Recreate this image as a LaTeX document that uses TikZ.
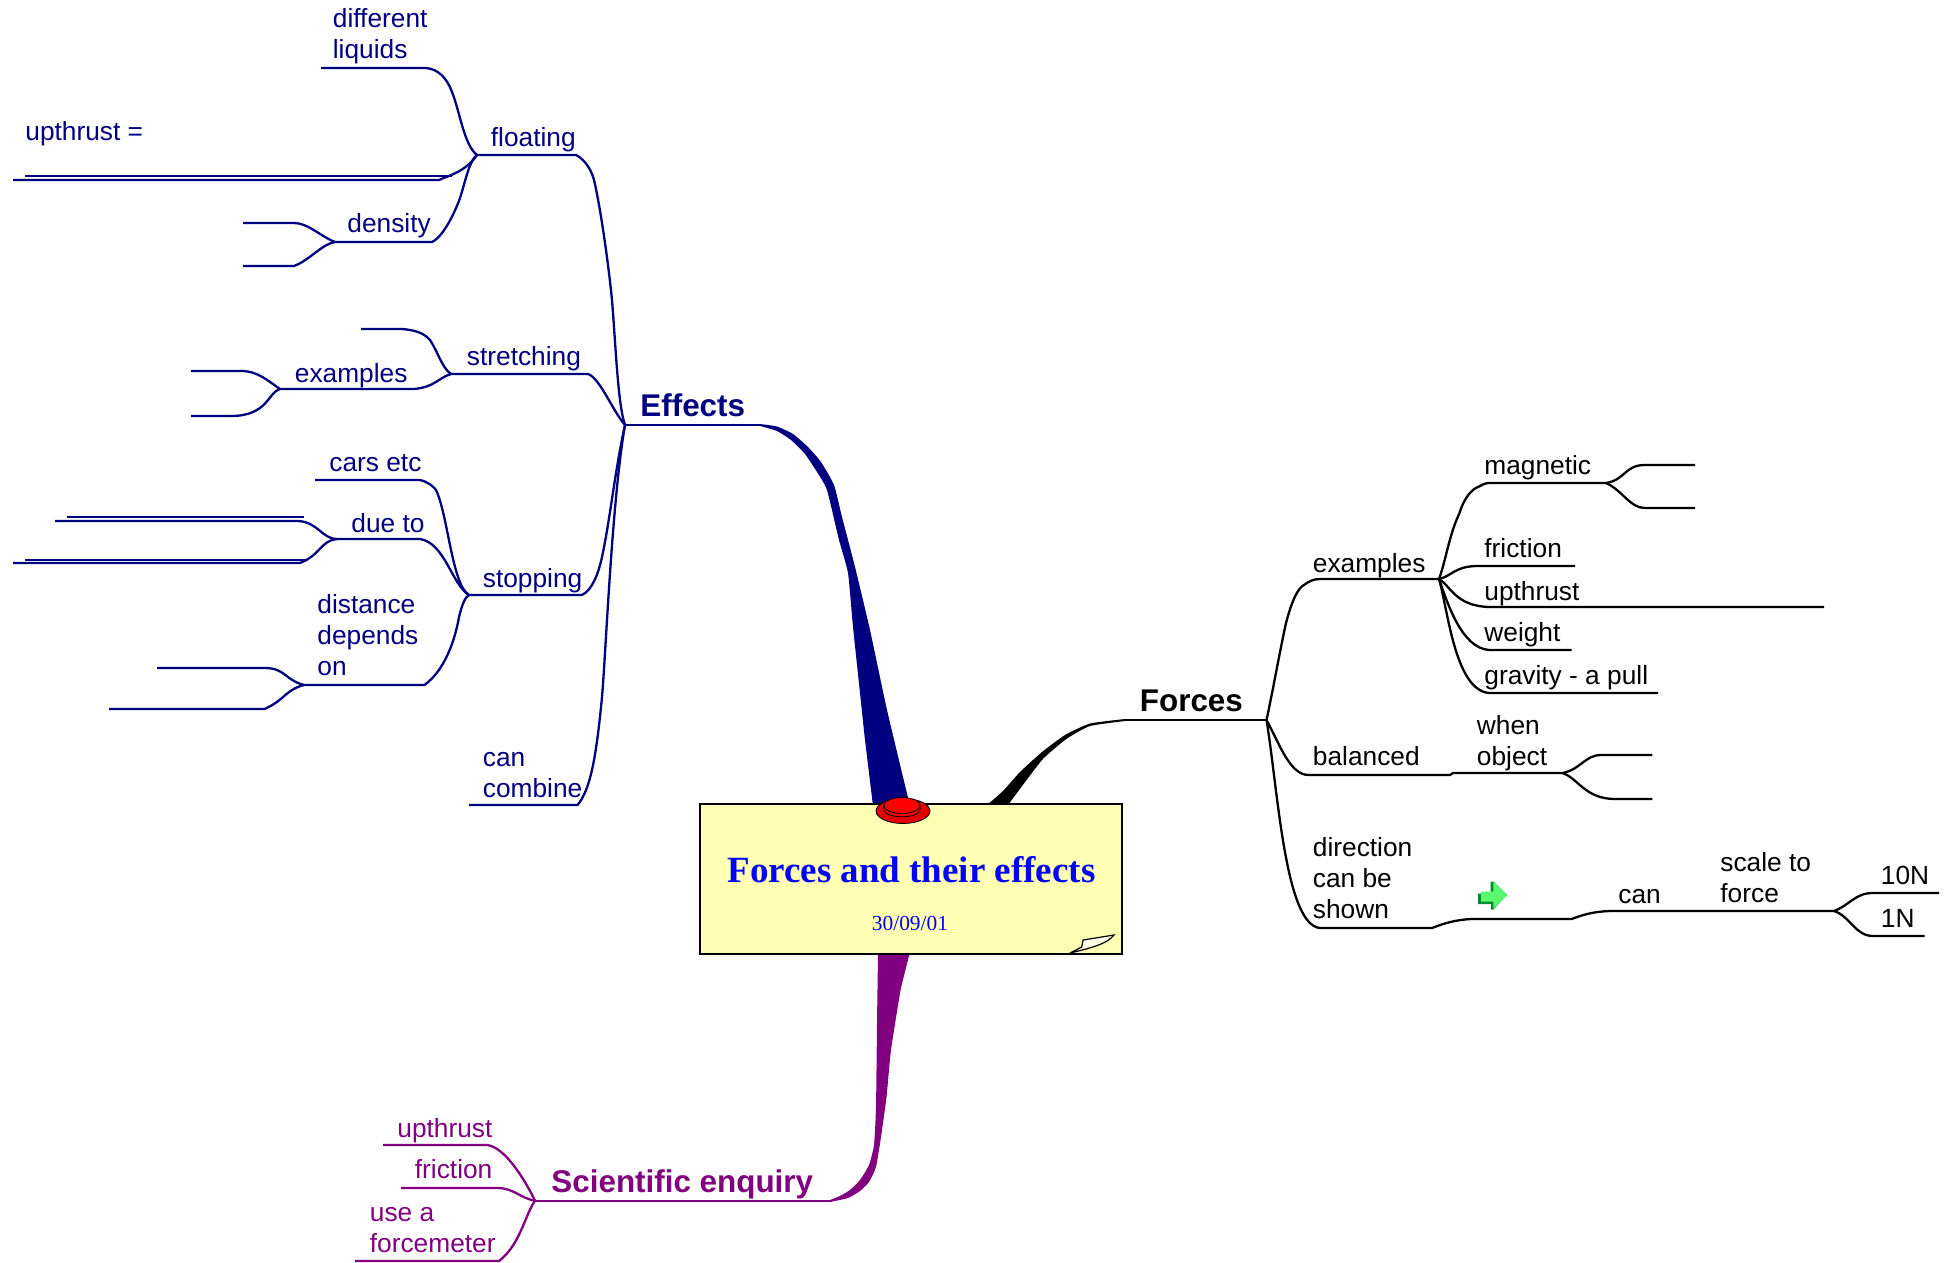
\documentclass[tikz,border=0pt]{standalone}
\usepackage{fontspec}
\setmainfont{Liberation Serif}
\newfontfamily\armfont{Liberation Sans}
\usepackage{xcolor}
\definecolor{effblue}{RGB}{0,0,128}
\definecolor{sciplum}{RGB}{128,0,128}
\definecolor{notefill}{RGB}{255,255,179}
\definecolor{titleblue}{RGB}{0,0,255}
\definecolor{brimred}{RGB}{226,0,0}
\definecolor{arrowlight}{RGB}{90,250,110}
\definecolor{arrowdark}{RGB}{0,140,50}
\tikzset{
  branch/.style={line width=1.15pt,line join=round},
  effline/.style={branch,draw=effblue},
  forline/.style={branch,draw=black},
  sciline/.style={branch,draw=sciplum},
  word/.style={inner sep=0pt,anchor=base west,align=left,font=\armfont\fontsize{13.15}{15.5}\selectfont},
  effword/.style={word,text=effblue},
  forword/.style={word,text=black},
  sciword/.style={word,text=sciplum},
  headword/.style={inner sep=0pt,anchor=base west,font=\armfont\bfseries\fontsize{15.7}{18}\selectfont},
  notebox/.style={draw=black,fill=notefill,line width=1.1pt,minimum width=211pt,minimum height=75pt,inner sep=0pt}
}
\begin{document}
\begin{tikzpicture}[x=.5pt,y=-.5pt]
\useasboundingbox (0,0) rectangle (1957,1262);

% thick limbs
\fill[effblue] plot[smooth,tension=.3] coordinates {(760,424) (777,426.5) (793,434) (808,447) (821,462) (834,485) (842,517) (855,567) (870,630) (887,710) (910,806)}
  -- plot[smooth,tension=.3] coordinates {(873,806) (865,740) (860,693) (853,627) (848,573) (839,540) (827,490) (817,472) (805,454) (791,440) (777,431) (760,426)} -- cycle;
\fill[black] plot[smooth,tension=.3] coordinates {(1125,719) (1090,723.5) (1065,735) (1042,752) (1020,772) (1003,791) (987,805)}
  -- plot[smooth,tension=.3] coordinates {(1008,805) (1042,760) (1067,738.5) (1090,726) (1125,721)} -- cycle;
\fill[sciplum] plot[smooth,tension=.3] coordinates {(878,954) (877,1023) (876,1107) (874,1145) (869,1165) (860,1180) (850,1190) (840,1196) (830,1200)}
  -- plot[smooth,tension=.3] coordinates {(830,1202) (848,1198) (860,1191) (869,1182) (876,1167) (881,1137) (886.5,1097) (891,1050) (900.6,990) (909.5,954)} -- cycle;

% note in the middle
\node[notebox] (note) at (911,879) {};
\filldraw[fill=notefill!30!white,draw=black,line width=.6pt] (1070,953) -- (1081.7,947) -- (1083,940) -- (1114,935) .. controls (1108,942) and (1100,946) .. (1070,953);
\filldraw[fill=brimred,draw=black,line width=.4pt] (903,811) ellipse (27 and 12.5);
\filldraw[fill=red,draw=black,line width=.4pt] (884,810) .. controls (886,819) and (918,819) .. (920,810) -- (920,805) -- (884,805) -- cycle;
\filldraw[fill=red,draw=black,line width=.4pt] (902,805.5) ellipse (18 and 8);
\node[inner sep=0pt,anchor=base west,text=titleblue,font=\bfseries\fontsize{18.5}{22}\selectfont] (title) at (727,882) {Forces and their effects};
\node[inner sep=0pt,anchor=base west,text=titleblue,font=\fontsize{10.7}{13}\selectfont] (date) at (871.5,930) {30/09/01};

% Effects
\coordinate (effJ) at (625,425);
\coordinate (effR) at (760,425);
\coordinate (fltL) at (477,155);
\coordinate (fltR) at (576,155);
\coordinate (difL) at (321,68);
\coordinate (difR) at (426,68);
\coordinate (upaL) at (25,176);
\coordinate (upaR) at (452,176);
\coordinate (upbL) at (13,180);
\coordinate (upbR) at (439,180);
\coordinate (denL) at (335,242);
\coordinate (denR) at (432,242);
\coordinate (dnaL) at (243,223);
\coordinate (dnaR) at (294,223);
\coordinate (dnbL) at (243,266);
\coordinate (dnbR) at (294,266);
\coordinate (strL) at (451,374);
\coordinate (strR) at (588,374);
\coordinate (stuL) at (361,329);
\coordinate (stuR) at (402,329);
\coordinate (exaL) at (280,389);
\coordinate (exaR) at (414,389);
\coordinate (exuL) at (191,371);
\coordinate (exuR) at (241,371);
\coordinate (exlL) at (191,416);
\coordinate (exlR) at (231,416);
\coordinate (stoL) at (469,595);
\coordinate (stoR) at (582,595);
\coordinate (carL) at (315,480);
\coordinate (carR) at (420,480);
\coordinate (dueL) at (337,539);
\coordinate (dueR) at (420,539);
\coordinate (dsaL) at (67,517);
\coordinate (dsaR) at (304,517);
\coordinate (dsbL) at (55,521);
\coordinate (dsbR) at (298,521);
\coordinate (dscL) at (25,560);
\coordinate (dscR) at (306,560);
\coordinate (dsdL) at (13,563);
\coordinate (dsdR) at (300,563);
\coordinate (disL) at (304,685);
\coordinate (disR) at (424.5,685);
\coordinate (diuL) at (157,668);
\coordinate (diuR) at (265,668);
\coordinate (dilL) at (109,709);
\coordinate (dilR) at (264.5,709);
\coordinate (comL) at (469,805);
\coordinate (comR) at (577.5,805);

\node[headword,text=effblue] (effects) at (640,416) {Effects};
\node[effword] (floating) at (490.5,147) {floating};
\node[effword] (different) at (332.5,59) {different\\liquids};
\node[effword] (upequals) at (25,141) {upthrust =};
\node[effword] (density) at (347,233) {density};
\node[effword] (stretching) at (466.5,365) {stretching};
\node[effword] (effexamples) at (294.5,382) {examples};
\node[effword] (cars) at (329,471) {cars etc};
\node[effword] (dueto) at (351,532) {due to};
\node[effword] (stopping) at (482.5,587) {stopping};
\node[effword] (distance) at (317,675) {distance\\depends\\on};
\node[effword] (combine) at (482.5,797) {can\\combine};

\draw[effline] (effJ) -- (effR);
\draw[effline] (fltL) -- (fltR) .. controls (586,160) and (592,172) .. (594,180) .. controls (600,205) and (608,260) .. (612,300) .. controls (616,350) and (618,405) .. (effJ);
\draw[effline] (difL) -- (difR) .. controls (438,69) and (447,78) .. (452,92) .. controls (460,112) and (464,145) .. (fltL);
\draw[effline] (upaL) -- (upaR);
\draw[effline] (upbL) -- (upbR) .. controls (450,175) and (465,172) .. (fltL);
\draw[effline] (denL) -- (denR) .. controls (445,236) and (458,205) .. (461,195) .. controls (466,178) and (470,160) .. (fltL);
\draw[effline] (denL) .. controls (320,236) and (308,223) .. (dnaR) -- (dnaL);
\draw[effline] (denL) .. controls (322,244) and (310,260) .. (dnbR) -- (dnbL);
\draw[effline] (strL) -- (strR) .. controls (600,378) and (612,410) .. (effJ);
\draw[effline] (stuL) -- (stuR) .. controls (415,330) and (424,333) .. (430,340) .. controls (438,352) and (442,368) .. (strL);
\draw[effline] (exaL) -- (exaR) .. controls (435,387) and (438,378) .. (strL);
\draw[effline] (exaL) .. controls (268,381) and (258,371) .. (exuR) -- (exuL);
\draw[effline] (exaL) .. controls (268,392) and (268,416) .. (exlR) -- (exlL);
\draw[effline] (stoL) -- (stoR) .. controls (592,590) and (598,575) .. (602,557) .. controls (610,520) and (615,470) .. (effJ);
\draw[effline] (carL) -- (carR) .. controls (428,482) and (433,486) .. (436,490) .. controls (448,515) and (452,585) .. (stoL);
\draw[effline] (dueL) -- (dueR) .. controls (445,543) and (452,585) .. (stoL);
\draw[effline] (dsaL) -- (dsaR);
\draw[effline] (dsbL) -- (dsbR) .. controls (318,522) and (322,539) .. (dueL);
\draw[effline] (dscL) -- (dscR);
\draw[effline] (dsdL) -- (dsdR) .. controls (322,554) and (320,541) .. (dueL);
\draw[effline] (disL) -- (disR) .. controls (445,670) and (455,640) .. (459,617) .. controls (462,605) and (465,597) .. (stoL);
\draw[effline] (disL) .. controls (285,680) and (285,668) .. (diuR) -- (diuL);
\draw[effline] (disL) .. controls (285,690) and (285,700) .. (dilR) -- (dilL);
\draw[effline] (comL) -- (comR) .. controls (590,790) and (596,760) .. (602,697) .. controls (606,650) and (612,500) .. (effJ);

% Forces
\coordinate (forR) at (1125,720);
\coordinate (forJ) at (1266.5,720);
\coordinate (fexL) at (1320,579);
\coordinate (fexR) at (1439,579);
\coordinate (magL) at (1489,483);
\coordinate (magR) at (1606,483);
\coordinate (mguR) at (1695,465);
\coordinate (mgbR) at (1695,508);
\coordinate (friR) at (1575,566);
\coordinate (uptR) at (1824,607);
\coordinate (weiR) at (1571.5,650);
\coordinate (graR) at (1658,693);
\coordinate (balM) at (1450,775);
\coordinate (whnM) at (1453,773);
\coordinate (whnR) at (1562.4,773);
\coordinate (whuR) at (1652.4,755);
\coordinate (whbR) at (1652.4,799);
\coordinate (dirM) at (1432,928);
\coordinate (arrL) at (1471,919);
\coordinate (arrR) at (1571.5,919);
\coordinate (canL) at (1610,911);
\coordinate (sclR) at (1834,911);
\coordinate (tenR) at (1939,893);
\coordinate (oneR) at (1924.5,936);

\node[headword] (forces) at (1139.5,711) {Forces};
\node[forword] (forexamples) at (1312.5,572) {examples};
\node[forword] (magnetic) at (1484,474.5) {magnetic};
\node[forword] (forfriction) at (1484,557) {friction};
\node[forword] (forupthrust) at (1484,600) {upthrust};
\node[forword] (weight) at (1484,641.7) {weight};
\node[forword] (gravity) at (1484,684) {gravity - a pull};
\node[forword] (balanced) at (1312.5,765) {balanced};
\node[forword] (whenobject) at (1476.5,765) {when\\object};
\node[forword] (direction) at (1312.5,918) {direction\\can be\\shown};
\node[forword] (can) at (1618,903.5) {can};
\node[forword] (scale) at (1720,902) {scale to\\force};
\node[forword] (tenN) at (1880.5,884) {10N};
\node[forword] (oneN) at (1880.5,927) {1N};

\draw[forline] (forR) -- (forJ);
\draw[forline] (forJ) .. controls (1273,690) and (1280,650) .. (1286,623) .. controls (1292,600) and (1298,588) .. (1304,585) .. controls (1309,581) and (1314,579) .. (fexL) -- (fexR);
\draw[forline] (fexR) .. controls (1446,560) and (1449,535) .. (1459.5,513) .. controls (1464,498) and (1472,489) .. (1478,487) .. controls (1482,485) and (1485,483) .. (magL) -- (magR);
\draw[forline] (magR) .. controls (1625,480) and (1625,465) .. (1644.7,465) -- (mguR);
\draw[forline] (magR) .. controls (1622,490) and (1630,508) .. (1644.7,508) -- (mgbR);
\draw[forline] (fexR) .. controls (1452,576) and (1455,566) .. (1478,566) -- (friR);
\draw[forline] (fexR) .. controls (1450,585) and (1455,606) .. (1489,607) -- (uptR);
\draw[forline] (fexR) .. controls (1448,605) and (1462,648) .. (1489,650) -- (weiR);
\draw[forline] (fexR) .. controls (1448,610) and (1455,690) .. (1489,693) -- (graR);
\draw[forline] (forJ) .. controls (1280,745) and (1290,775) .. (1308.6,775) -- (balM) -- (whnM) -- (whnR);
\draw[forline] (whnR) .. controls (1580,770) and (1585,755) .. (1601,755) -- (whuR);
\draw[forline] (whnR) .. controls (1578,778) and (1585,799) .. (1615,799) -- (whbR);
\draw[forline] (forJ) .. controls (1278,790) and (1285,925) .. (1320,928) -- (dirM) .. controls (1445,923) and (1455,920) .. (arrL) -- (arrR) .. controls (1585,914) and (1595,911.5) .. (canL) -- (sclR);
\draw[forline] (sclR) .. controls (1850,905) and (1855,893) .. (1873,893) -- (tenR);
\draw[forline] (sclR) .. controls (1850,916) and (1855,936) .. (1873,936) -- (oneR);

% little arrow
\fill[arrowdark] (1478,893.5) -- (1490.5,893.5) -- (1490.5,881.5) -- (1493.3,881.5) -- (1507,895) -- (1493.3,909.5) -- (1491,909.5) -- (1491,904) -- (1478,904) -- cycle;
\fill[arrowlight] (1481,891.7) -- (1493.3,891.7) -- (1493.3,882) -- (1507.5,895) -- (1493.3,908.5) -- (1493.3,901.5) -- (1481,901.5) -- cycle;

% Scientific enquiry
\coordinate (sciJ) at (535,1200.7);
\coordinate (sciR) at (830,1200.7);
\coordinate (supL) at (383,1145);
\coordinate (supR) at (487,1145);
\coordinate (sfrL) at (401,1188);
\coordinate (sfrR) at (499,1188);
\coordinate (sueL) at (355,1261);
\coordinate (sueR) at (499,1261);

\node[headword,text=sciplum] (enquiry) at (551,1192.5) {Scientific enquiry};
\node[sciword] (sciupthrust) at (397,1137.5) {upthrust};
\node[sciword] (scifriction) at (414.5,1178) {friction};
\node[sciword] (forcemeter) at (369.5,1252) {use a\\forcemeter};

\draw[sciline] (sciJ) -- (sciR);
\draw[sciline] (supL) -- (supR) .. controls (505,1147) and (525,1180) .. (sciJ);
\draw[sciline] (sfrL) -- (sfrR) .. controls (515,1189) and (520,1198) .. (sciJ);
\draw[sciline] (sueL) -- (sueR) .. controls (520,1245) and (525,1215) .. (sciJ);

\end{tikzpicture}
\end{document}
